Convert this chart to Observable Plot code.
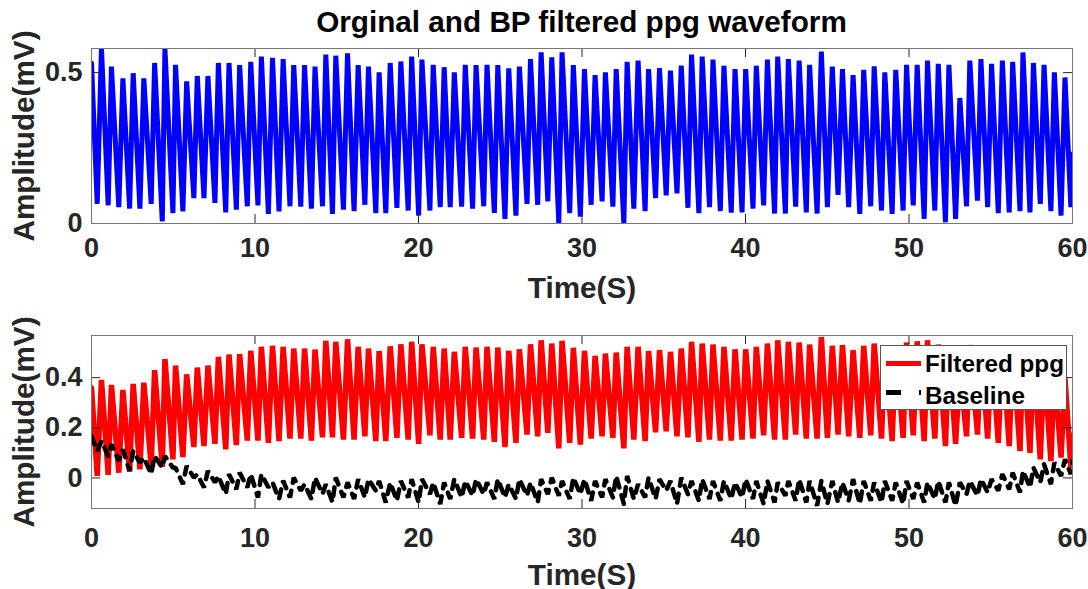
<!DOCTYPE html>
<html>
<head>
<meta charset="utf-8">
<script src="https://cdn.jsdelivr.net/npm/d3@7"></script>
<script src="https://cdn.jsdelivr.net/npm/@observablehq/plot@0.6"></script>
<style>
  body { margin: 0; background: #fff; }
  #wrap { position: relative; width: 1088px; height: 589px; font-family: "Liberation Sans", Arial, sans-serif; background: #fff; }
  #wrap svg { position: absolute; left: 0; }
  #title { position: absolute; left: 91px; width: 981px; top: 7px; text-align: center; font-weight: bold; font-size: 29.7px; line-height: 1; color: #000; }
  #legend { position: absolute; left: 880px; top: 345px; width: 185px; height: 63px; border: 1px solid #555; background: #fff; }
  #legend .lbl { position: absolute; left: 44px; font-weight: bold; font-size: 24.3px; line-height: 1; color: #000; white-space: nowrap; }
</style>
</head>
<body>
<div id="wrap">
  <div id="title">Orginal and BP filtered ppg waveform</div>
</div>
<script>
// ---------------- data ----------------
const beatPeakTime = [
  0.00, 0.61, 1.22, 1.92, 2.55, 3.20, 3.86, 4.49, 5.14, 5.82,
  6.47, 7.12, 7.76, 8.41, 9.06, 9.74, 10.39, 11.07, 11.72, 12.37,
  13.03, 13.67, 14.33, 14.94, 15.66, 16.31, 16.94, 17.59, 18.27, 18.92,
  19.58, 20.21, 20.90, 21.57, 22.19, 22.86, 23.52, 24.19, 24.85, 25.52,
  26.17, 26.85, 27.50, 28.15, 28.78, 29.47, 30.15, 30.80, 31.43, 32.09,
  32.76, 33.43, 34.07, 34.74, 35.41, 36.07, 36.70, 37.35, 38.01, 38.68,
  39.36, 40.01, 40.66, 41.34, 41.97, 42.62, 43.28, 43.92, 44.64, 45.31,
  45.93, 46.58, 47.23, 47.87, 48.52, 49.19, 49.85, 50.50, 51.13, 51.79,
  52.44, 53.11, 53.72, 54.40, 55.05, 55.71, 56.34, 56.97, 57.61, 58.26,
  58.89, 59.54
];
const beatTroughTime = [
  0.35, 1.02, 1.67, 2.33, 2.96, 3.65, 4.33, 4.98, 5.59, 6.26,
  6.88, 7.55, 8.21, 8.86, 9.53, 10.18, 10.82, 11.47, 12.14, 12.80,
  13.45, 14.13, 14.74, 15.41, 16.06, 16.72, 17.39, 18.00, 18.68, 19.37,
  20.01, 20.70, 21.33, 21.94, 22.64, 23.31, 23.99, 24.64, 25.29, 25.96,
  26.64, 27.29, 27.91, 28.58, 29.25, 29.90, 30.56, 31.23, 31.89, 32.56,
  33.17, 33.86, 34.50, 35.15, 35.81, 36.48, 37.15, 37.80, 38.46, 39.13,
  39.79, 40.46, 41.11, 41.78, 42.44, 43.07, 43.72, 44.38, 45.01, 45.66,
  46.31, 46.99, 47.66, 48.32, 48.97, 49.64, 50.26, 50.93, 51.58, 52.23,
  52.85, 53.52, 54.19, 54.81, 55.46, 56.13, 56.79, 57.40, 58.03, 58.68,
  59.30, 59.90
];
const endTime = 60;

// Original ppg (top panel)
const originalPeak = [
  0.531, 0.58, 0.52, 0.481, 0.498, 0.481, 0.532, 0.58, 0.526, 0.471,
  0.489, 0.489, 0.532, 0.532, 0.525, 0.536, 0.553, 0.549, 0.545, 0.525,
  0.525, 0.52, 0.56, 0.556, 0.564, 0.525, 0.52, 0.501, 0.532, 0.537,
  0.553, 0.543, 0.526, 0.518, 0.501, 0.526, 0.525, 0.526, 0.525, 0.514,
  0.52, 0.545, 0.567, 0.551, 0.567, 0.525, 0.512, 0.492, 0.501, 0.512,
  0.536, 0.54, 0.512, 0.515, 0.507, 0.523, 0.56, 0.553, 0.543, 0.523,
  0.512, 0.512, 0.523, 0.543, 0.553, 0.545, 0.54, 0.526, 0.57, 0.52,
  0.512, 0.492, 0.509, 0.521, 0.501, 0.509, 0.526, 0.526, 0.54, 0.529,
  0.526, 0.416, 0.54, 0.545, 0.529, 0.54, 0.536, 0.567, 0.532, 0.526,
  0.501, 0.484
];
const originalTrough = [
  0.065, 0.06, 0.054, 0.049, 0.049, 0.065, 0.007, 0.034, 0.04, 0.084,
  0.084, 0.068, 0.037, 0.046, 0.057, 0.06, 0.032, 0.04, 0.057, 0.056,
  0.049, 0.057, 0.032, 0.046, 0.041, 0.062, 0.034, 0.034, 0.052, 0.043,
  0.026, 0.043, 0.054, 0.054, 0.056, 0.049, 0.057, 0.035, 0.015, 0.026,
  0.065, 0.062, 0.073, 0.001, 0.034, 0.023, 0.062, 0.073, 0.056, 0.001,
  0.049, 0.041, 0.084, 0.093, 0.1, 0.052, 0.034, 0.054, 0.041, 0.036,
  0.037, 0.049, 0.06, 0.033, 0.033, 0.056, 0.037, 0.033, 0.054, 0.095,
  0.054, 0.032, 0.057, 0.043, 0.032, 0.043, 0.06, 0.015, 0.043, 0.004,
  0.015, 0.057, 0.076, 0.054, 0.034, 0.037, 0.041, 0.037, 0.065, 0.041,
  0.026, 0.054
];
const originalEnd = 0.23;

// Filtered ppg (bottom panel, red)
const filteredPeak = [
  0.36, 0.391, 0.371, 0.351, 0.375, 0.380, 0.430, 0.474, 0.448, 0.413,
  0.44, 0.448, 0.483, 0.492, 0.494, 0.507, 0.523, 0.527, 0.523, 0.516,
  0.516, 0.512, 0.547, 0.543, 0.553, 0.523, 0.516, 0.506, 0.525, 0.533,
  0.543, 0.533, 0.523, 0.516, 0.503, 0.523, 0.52, 0.523, 0.52, 0.507,
  0.513, 0.533, 0.549, 0.536, 0.547, 0.519, 0.507, 0.487, 0.496, 0.5,
  0.523, 0.523, 0.506, 0.51, 0.503, 0.516, 0.543, 0.536, 0.532, 0.523,
  0.513, 0.513, 0.523, 0.536, 0.549, 0.543, 0.54, 0.532, 0.562, 0.527,
  0.53, 0.51, 0.527, 0.536, 0.523, 0.527, 0.54, 0.545, 0.549, 0.532,
  0.523, 0.43, 0.53, 0.527, 0.52, 0.52, 0.51, 0.52, 0.48, 0.46,
  0.43, 0.40
];
const filteredTrough = [
  0.008, 0.012, 0.021, 0.025, 0.034, 0.048, 0.044, 0.074, 0.083, 0.123,
  0.127, 0.136, 0.114, 0.131, 0.149, 0.149, 0.140, 0.147, 0.157, 0.157,
  0.149, 0.162, 0.162, 0.153, 0.153, 0.166, 0.147, 0.147, 0.160, 0.153,
  0.136, 0.170, 0.153, 0.153, 0.160, 0.157, 0.153, 0.144, 0.123, 0.140,
  0.173, 0.166, 0.180, 0.118, 0.140, 0.133, 0.157, 0.166, 0.160, 0.118,
  0.153, 0.147, 0.182, 0.186, 0.166, 0.162, 0.144, 0.153, 0.149, 0.149,
  0.153, 0.157, 0.170, 0.153, 0.153, 0.173, 0.157, 0.157, 0.160, 0.173,
  0.166, 0.160, 0.170, 0.157, 0.147, 0.160, 0.170, 0.147, 0.157, 0.127,
  0.136, 0.166, 0.173, 0.157, 0.140, 0.127, 0.107, 0.100, 0.074, 0.067,
  0.081, 0.041
];
const filteredEnd = 0.17;

// Baseline (bottom panel, black dashed)
const baselineHigh = [
  0.166, 0.147, 0.134, 0.114, 0.107, 0.081, 0.087, 0.087, 0.041, 0.048,
  0.015, 0.028, 0.008, 0.015, 0.021, 0.015, 0.015, -0.018, -0.011, 0.001,
  -0.025, 0.001, -0.025, 0.001, -0.018, -0.005, -0.005, -0.012, -0.018, -0.012,
  -0.005, -0.005, -0.018, -0.018, -0.005, -0.012, -0.005, -0.018, -0.005, -0.025,
  -0.005, -0.018, -0.005, 0.001, -0.012, 0.001, -0.005, -0.012, -0.005, 0.008,
  0.008, -0.025, 0.001, -0.005, -0.012, 0.001, -0.012, -0.005, -0.012, -0.012,
  -0.018, -0.005, -0.012, -0.012, -0.018, -0.012, -0.005, -0.012, -0.012, -0.012,
  -0.018, -0.005, -0.012, -0.018, -0.012, -0.018, -0.012, -0.018, -0.018, -0.012,
  -0.018, -0.018, -0.012, -0.005, -0.005, 0.015, 0.021, 0.028, 0.041, 0.054,
  0.061, 0.074
];
const baselineLow = [
  0.107, 0.087, 0.068, 0.028, 0.061, 0.015, 0.041, 0.041, -0.025, 0.001,
  -0.038, -0.018, -0.064, -0.045, -0.038, -0.078, -0.038, -0.084, -0.078, -0.051,
  -0.084, -0.064, -0.097, -0.078, -0.084, -0.078, -0.051, -0.098, -0.091, -0.078,
  -0.098, -0.065, -0.104, -0.084, -0.078, -0.071, -0.065, -0.084, -0.078, -0.084,
  -0.071, -0.098, -0.065, -0.071, -0.084, -0.065, -0.091, -0.078, -0.078, -0.104,
  -0.084, -0.078, -0.084, -0.051, -0.104, -0.065, -0.091, -0.084, -0.091, -0.084,
  -0.078, -0.084, -0.104, -0.098, -0.071, -0.091, -0.098, -0.111, -0.104, -0.098,
  -0.091, -0.104, -0.091, -0.098, -0.091, -0.104, -0.084, -0.098, -0.084, -0.098,
  -0.111, -0.065, -0.071, -0.058, -0.051, -0.045, -0.058, -0.038, -0.018, -0.025,
  0.008, 0.015
];
const baselineEnd = 0.067;

const xTicks = [0, 10, 20, 30, 40, 50, 60];
const topYTicks = [0, 0.5];
const bottomYTicks = [0, 0.2, 0.4];
const xLabel = "Time(S)";
const yLabel = "Amplitude(mV)";
const legendLabels = ["Filtered ppg", "Baseline"];

// ---------------- build series ----------------
function wave(peaks, troughs, endV) {
  const pts = [];
  for (let i = 0; i < beatPeakTime.length; i++) {
    pts.push({t: beatPeakTime[i], v: peaks[i]});
    pts.push({t: beatTroughTime[i], v: troughs[i]});
  }
  pts.push({t: endTime, v: endV});
  return pts;
}
const originalSeries = wave(originalPeak, originalTrough, originalEnd);
const filteredSeries = wave(filteredPeak, filteredTrough, filteredEnd);
const baselineSeries = wave(baselineHigh, baselineLow, baselineEnd);

// ---------------- drawing ----------------
const W = 1088, ML = 91, MR = 16;
const FONT = '"Liberation Sans", Arial, sans-serif';
const AXIS = "#262626";
const TICK = 9;

function panel({lines, yDomain, yTicks, height, mt, mb, xPad, labelDy}) {
  const fw = W - ML - MR;
  const fh = height - mt - mb;
  const marks = [
    ...lines,
    Plot.tickX(xTicks, {x: d => d, insetTop: fh - TICK, stroke: AXIS, strokeWidth: 1}),
    Plot.tickX(xTicks, {x: d => d, insetBottom: fh - TICK, stroke: AXIS, strokeWidth: 1}),
    Plot.tickY(yTicks, {y: d => d, insetRight: fw - TICK, stroke: AXIS, strokeWidth: 1}),
    Plot.tickY(yTicks, {y: d => d, insetLeft: fw - TICK, stroke: AXIS, strokeWidth: 1}),
    Plot.frame({stroke: "#777", strokeWidth: 1}),
    Plot.axisX(xTicks, {tickSize: 0, tickPadding: xPad, label: null, fontSize: 27, fontWeight: "bold", fill: AXIS, tickFormat: d => String(d)}),
    Plot.axisY(yTicks, {tickSize: 0, tickPadding: 9, label: null, fontSize: 27, fontWeight: "bold", fill: AXIS, tickFormat: d => String(d)}),
    Plot.text([xLabel], {text: d => d, frameAnchor: "bottom", dy: labelDy, lineAnchor: "middle", fontSize: 29.7, fontWeight: "bold", fill: AXIS}),
    Plot.text([yLabel], {text: d => d, frameAnchor: "left", dx: -67, rotate: -90, textAnchor: "middle", lineAnchor: "middle", fontSize: 29.7, fontWeight: "bold", fill: AXIS})
  ];
  return Plot.plot({
    width: W, height,
    marginLeft: ML, marginRight: MR, marginTop: mt, marginBottom: mb,
    style: {fontFamily: FONT, fontWeight: "bold", background: "transparent", color: AXIS, overflow: "visible"},
    x: {domain: [0, endTime], axis: null},
    y: {domain: yDomain, axis: null},
    marks
  });
}

const topPanel = panel({
  lines: [
    Plot.line(originalSeries, {x: "t", y: "v", stroke: "#0000ff", strokeWidth: 5, strokeLinejoin: "bevel", clip: true})
  ],
  yDomain: [0, 0.58], yTicks: topYTicks, height: 300, mt: 48, mb: 77, xPad: 14, labelDy: 65
});
const bottomPanel = panel({
  lines: [
    Plot.line(filteredSeries, {x: "t", y: "v", stroke: "#ff0000", strokeWidth: 5.5, strokeLinejoin: "bevel", clip: true}),
    Plot.line(baselineSeries, {x: "t", y: "v", stroke: "#000", strokeWidth: 4.5, strokeDasharray: "9,8", strokeLinejoin: "bevel", clip: true})
  ],
  yDomain: [-0.122, 0.568], yTicks: bottomYTicks, height: 289, mt: 35, mb: 81, xPad: 19, labelDy: 67
});
topPanel.style.top = "0px";
bottomPanel.style.top = "300px";
const wrapEl = document.getElementById("wrap");
wrapEl.appendChild(topPanel);
wrapEl.appendChild(bottomPanel);

// legend
const legendEl = document.createElement("div");
legendEl.id = "legend";
const ns = "http://www.w3.org/2000/svg";
const sw = document.createElementNS(ns, "svg");
sw.setAttribute("width", 185); sw.setAttribute("height", 63);
sw.style.position = "absolute"; sw.style.left = "0px"; sw.style.top = "0px";
const l1 = document.createElementNS(ns, "line");
l1.setAttribute("x1", 5); l1.setAttribute("x2", 40); l1.setAttribute("y1", 17.5); l1.setAttribute("y2", 17.5);
l1.setAttribute("stroke", "#ff0000"); l1.setAttribute("stroke-width", 5);
const l2 = document.createElementNS(ns, "line");
l2.setAttribute("x1", 5); l2.setAttribute("x2", 40); l2.setAttribute("y1", 46.5); l2.setAttribute("y2", 46.5);
l2.setAttribute("stroke", "#000"); l2.setAttribute("stroke-width", 5); l2.setAttribute("stroke-dasharray", "15,18");
sw.appendChild(l1); sw.appendChild(l2);
legendEl.appendChild(sw);
legendLabels.forEach((txt, i) => {
  const s = document.createElement("div");
  s.className = "lbl";
  s.textContent = txt;
  s.style.top = (i === 0 ? 6 : 38) + "px";
  legendEl.appendChild(s);
});
wrapEl.appendChild(legendEl);
</script>
</body>
</html>
